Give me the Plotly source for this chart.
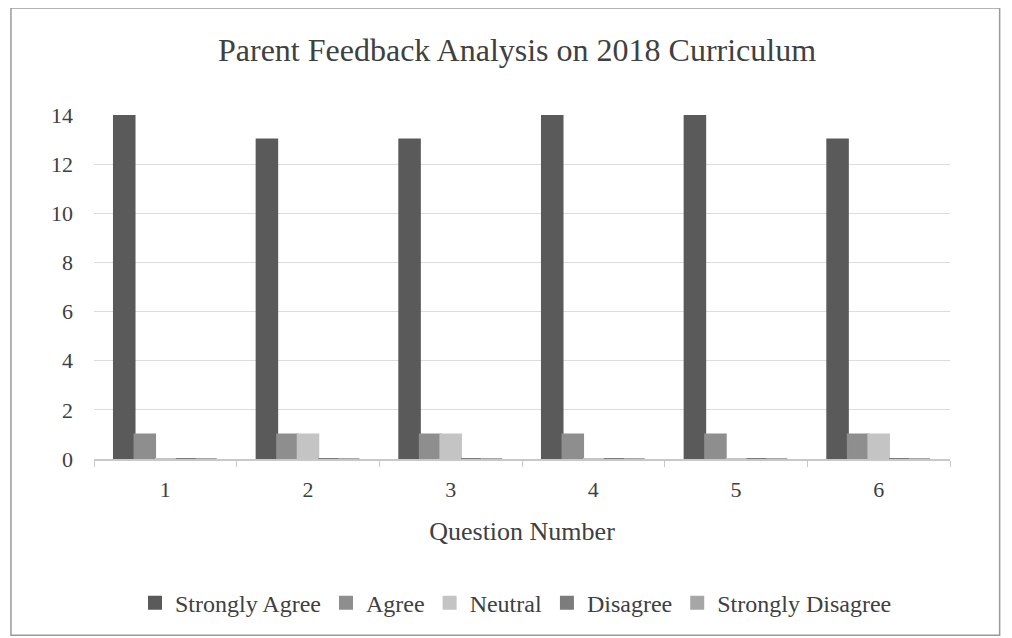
import plotly.graph_objects as go

categories = ["1", "2", "3", "4", "5", "6"]
strongly_agree = [14, 13, 13, 14, 14, 13]
agree = [1, 1, 1, 1, 1, 1]
neutral = [0, 1, 1, 0, 0, 1]
disagree = [0, 0, 0, 0, 0, 0]
strongly_disagree = [0, 0, 0, 0, 0, 0]
y_ticks = [0, 2, 4, 6, 8, 10, 12, 14]

series = [
    ("Strongly Agree", strongly_agree, "#5a5a5a"),
    ("Agree", agree, "#8e8e8e"),
    ("Neutral", neutral, "#c4c4c4"),
    ("Disagree", disagree, "#7c7c7c"),
    ("Strongly Disagree", strongly_disagree, "#a6a6a6"),
]

fig = go.Figure()
for name, vals, col in series:
    fig.add_trace(go.Bar(
        x=categories, y=vals, name=name,
        marker=dict(color=col, line=dict(color=col, width=2)),
    ))

font_family = "Liberation Serif, Times New Roman, serif"
txt = "#404040"

fig.update_layout(
    width=1012, height=638,
    barmode="group", bargap=0.28, bargroupgap=0,
    paper_bgcolor="white", plot_bgcolor="white",
    margin=dict(l=86, r=70, t=107, b=187),
    font=dict(family=font_family, color=txt, size=22),
    title=dict(text="Parent Feedback Analysis on 2018 Curriculum",
               x=0.503, xanchor="center", y=0.934, yanchor="middle",
               font=dict(size=32, color=txt, family=font_family)),
    legend=dict(orientation="h", x=0.493, xanchor="center", y=-0.419, yanchor="middle",
                font=dict(size=24, color=txt, family=font_family),
                itemwidth=30, traceorder="normal"),
    xaxis=dict(
        title=dict(text="Question Number", font=dict(size=26, color=txt), standoff=20),
        showline=True, linecolor="#c8c8c8", linewidth=2,
        ticks="outside", tickson="boundaries", ticklen=6, tickcolor="#c8c8c8",
        tickfont=dict(size=22, color=txt),
        ticklabelstandoff=10,
        showgrid=False,
    ),
    yaxis=dict(
        range=[0, 14], tickvals=y_ticks,
        showgrid=True, gridcolor="#dcdcdc", gridwidth=1,
        zeroline=False, showline=False,
        tickfont=dict(size=22, color=txt),
        ticklabelstandoff=20,
    ),
    shapes=[dict(type="rect", xref="paper", yref="paper", x0=-0.097, x1=1.058,
                 y0=-0.512, y1=1.311, line=dict(color="#9a9a9a", width=1.5),
                 fillcolor="rgba(0,0,0,0)", layer="below")],
)

fig.write_html("out.html")
